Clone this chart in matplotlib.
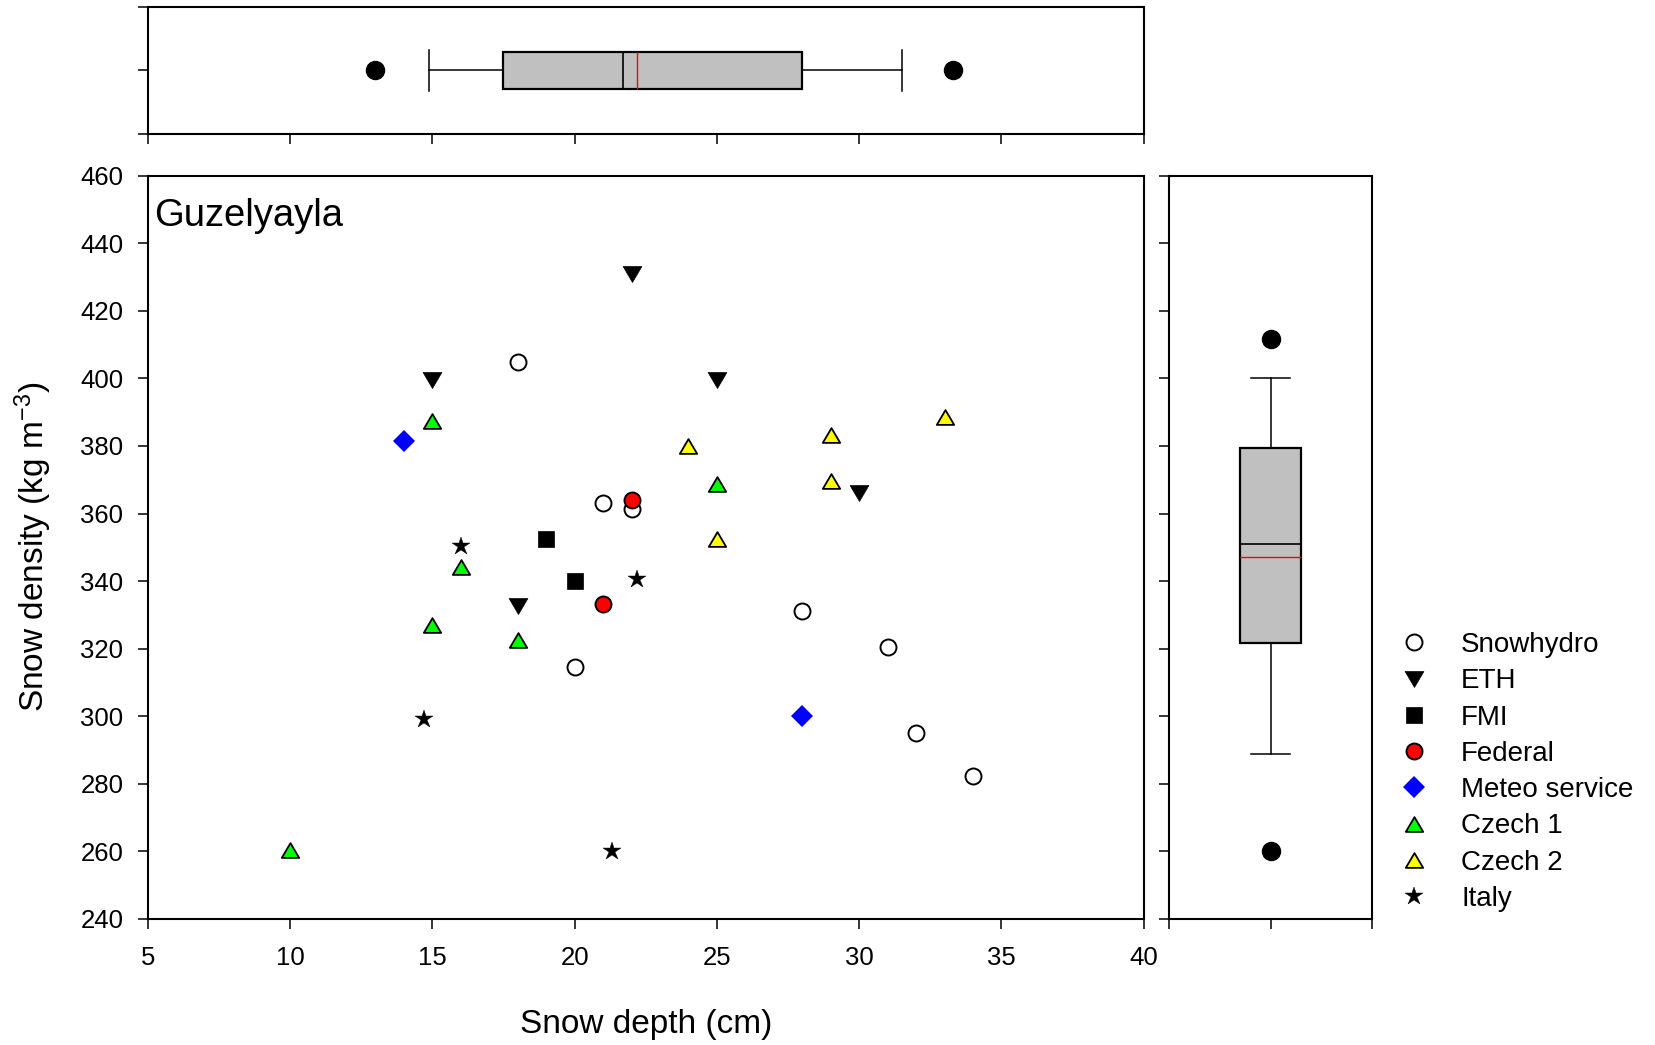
import matplotlib
matplotlib.use("Agg")
import matplotlib.pyplot as plt
from matplotlib.path import Path

plt.rcParams['font.family'] = ['Liberation Sans', 'DejaVu Sans']
plt.rcParams['mathtext.fontset'] = 'custom'
plt.rcParams['mathtext.rm'] = 'Liberation Sans'
plt.rcParams['mathtext.it'] = 'Liberation Sans:italic'
plt.rcParams['mathtext.bf'] = 'Liberation Sans:bold'

# ---------------- data ----------------
series_names = ["Snowhydro", "ETH", "FMI", "Federal", "Meteo service",
                "Czech 1", "Czech 2", "Italy"]
snow_x = [18, 21, 22, 20, 28, 31, 32, 34]
snow_y = [405, 363, 361.4, 314.6, 331.2, 320.4, 295, 282.3]
eth_x = [22, 15, 25, 30, 18]
eth_y = [431, 399.5, 399.5, 366, 332.5]
fmi_x = [19, 20]
fmi_y = [352.5, 340]
fed_x = [22, 21]
fed_y = [364, 333.3]
met_x = [14, 28]
met_y = [381.5, 300]
cz1_x = [15, 16, 25, 15, 18, 10]
cz1_y = [387.3, 344.2, 368.7, 327, 322.6, 260.4]
cz2_x = [24, 29, 33, 29, 25]
cz2_y = [380, 383.4, 388.6, 369.7, 352.6]
ita_x = [16, 22.2, 14.7, 21.3]
ita_y = [350.5, 340.6, 299.2, 260]

# box-plot statistics
depth_whislo, depth_q1, depth_med, depth_mean, depth_q3, depth_whishi = 14.9, 17.5, 21.7, 22.2, 28.0, 31.5
depth_fliers = [13.0, 33.3]
dens_whislo, dens_q1, dens_med, dens_mean, dens_q3, dens_whishi = 288.7, 321.7, 351.1, 347.2, 379.5, 400.0
dens_fliers = [411.6, 260.0]

x_ticks = [5, 10, 15, 20, 25, 30, 35, 40]
y_ticks = [240, 260, 280, 300, 320, 340, 360, 380, 400, 420, 440, 460]
site_label = "Guzelyayla"

# ---------------- figure ----------------
W, H = 1656, 1045
fig = plt.figure(figsize=(W / 100, H / 100), dpi=100)

def px_axes(x0, y0, x1, y1):
    return fig.add_axes([x0 / W, 1 - y1 / H, (x1 - x0) / W, (y1 - y0) / H])

ax = px_axes(147.7, 175.7, 1143.8, 919.0)
axt = px_axes(147.7, 6.7, 1143.8, 134.0)
axr = px_axes(1169.3, 175.7, 1371.7, 919.0)

spine_lw = 1.5
for a in (ax, axt, axr):
    for s in a.spines.values():
        s.set_linewidth(spine_lw)
    a.tick_params(direction='out', length=7.5, width=1.1, colors='black')

codes = [Path.MOVETO, Path.LINETO, Path.LINETO, Path.CLOSEPOLY]
tri_up = Path([(-1, -0.85), (1, -0.85), (0, 0.85), (-1, -0.85)], codes)
tri_dn = Path([(-1, 0.85), (1, 0.85), (0, -0.85), (-1, 0.85)], codes)

styles = [
    (snow_x, snow_y, dict(marker='o', ms=11.5, mfc='white', mec='black', mew=1.4)),
    (eth_x, eth_y, dict(marker=tri_dn, ms=13.5, mfc='black', mec='black', mew=0.5)),
    (fmi_x, fmi_y, dict(marker='s', ms=11.5, mfc='black', mec='black', mew=0.5)),
    (fed_x, fed_y, dict(marker='o', ms=11.5, mfc='#FF0000', mec='black', mew=1.4)),
    (met_x, met_y, dict(marker='D', ms=11.5, mfc='#0000FF', mec='#0000FF', mew=0)),
    (cz1_x, cz1_y, dict(marker=tri_up, ms=12.5, mfc='#00FF00', mec='black', mew=1.3)),
    (cz2_x, cz2_y, dict(marker=tri_up, ms=12.5, mfc='#FFFF00', mec='black', mew=1.3)),
    (ita_x, ita_y, dict(marker='*', ms=13.5, mfc='black', mec='black', mew=0.3)),
]
handles = []
for name, (xs, ys, st) in zip(series_names, styles):
    h, = ax.plot(xs, ys, ls='none', label=name, zorder=3, **st)
    handles.append(h)

ax.set_xlim(5, 40)
ax.set_ylim(240, 460)
ax.set_xticks(x_ticks)
ax.set_yticks(y_ticks)
ax.tick_params(axis='x', labelsize=18.5, pad=12)
ax.tick_params(axis='y', labelsize=18.5, pad=10)
ax.set_xlabel("Snow depth (cm)", fontsize=24)
ax.xaxis.set_label_coords(0.5, -0.121)
ax.set_ylabel(r"Snow density (kg m$^{-3}$)", fontsize=24)
ax.yaxis.set_label_coords(-0.0943, 0.5)
ax.text(154 / W, 1 - 226.5 / H, site_label, transform=fig.transFigure,
        fontsize=27.5, ha='left', va='baseline')

# ---------------- box plots ----------------
box_common = dict(
    patch_artist=True, showmeans=True, meanline=True,
    boxprops=dict(facecolor='#C0C0C0', edgecolor='black', linewidth=1.6),
    whiskerprops=dict(color='black', linewidth=1.1),
    capprops=dict(color='black', linewidth=1.1),
    medianprops=dict(color='black', linewidth=1.2),
    meanprops=dict(color='#FF0000', linewidth=1.0, linestyle='-'),
    flierprops=dict(marker='o', markerfacecolor='black', markeredgecolor='black',
                    markersize=13, linestyle='none'),
)

depth_stats = [dict(whislo=depth_whislo, q1=depth_q1, med=depth_med, mean=depth_mean,
                    q3=depth_q3, whishi=depth_whishi, fliers=depth_fliers)]
axt.bxp(depth_stats, positions=[1], widths=0.59, capwidths=0.655,
        orientation='horizontal', **box_common)
axt.set_xlim(5, 40)
axt.set_ylim(0, 2)
axt.set_xticks(x_ticks)
axt.set_yticks([0, 1, 2])
axt.tick_params(labelbottom=False, labelleft=False)

dens_stats = [dict(whislo=dens_whislo, q1=dens_q1, med=dens_med, mean=dens_mean,
                   q3=dens_q3, whishi=dens_whishi, fliers=dens_fliers)]
axr.bxp(dens_stats, positions=[1], widths=0.606, capwidths=0.395,
        orientation='vertical', **box_common)
axr.set_ylim(240, 460)
axr.set_xlim(0, 2)
axr.set_yticks(y_ticks)
axr.set_xticks([0, 1, 2])
axr.tick_params(labelbottom=False, labelleft=False)

# ---------------- legend ----------------
fig.legend(handles=handles, labels=series_names, loc='upper left',
           bbox_to_anchor=(1400 / W, 1 - 632 / H), frameon=False,
           fontsize=20, handlelength=1.0, handletextpad=1.2,
           labelspacing=0.37, borderpad=0, borderaxespad=0, numpoints=1)

fig.savefig("out.png", dpi=100)
